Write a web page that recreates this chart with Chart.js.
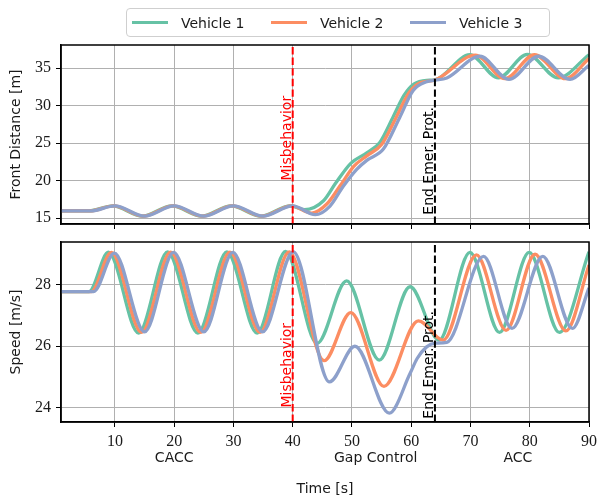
<!DOCTYPE html>
<html>
<head>
<meta charset="utf-8">
<script src="https://cdn.jsdelivr.net/npm/chart.js@4.4.1/dist/chart.umd.min.js"></script>
<style>
  body { margin: 0; background: #fff; }
  #wrap { position: relative; width: 599px; height: 500px; overflow: hidden; background: #fff; }
  canvas { position: absolute; left: 0; }
  #topChart { top: 0; }
  #bottomChart { top: 232px; }
  #legend {
    position: absolute; left: 126px; top: 8px; width: 424px; height: 29px;
    box-sizing: border-box; border: 1px solid #cfcfcf; border-radius: 4px;
    background: rgba(255,255,255,0.85); padding-left: 5px;
    display: flex; align-items: center; z-index: 2;
    font: 14px "DejaVu Sans", sans-serif; color: #1a1a1a;
  }
  #legend .item { width: 148px; display: flex; align-items: center; }
  #legend .swatch { width: 36px; height: 3px; margin-right: 13px; }
</style>
</head>
<body>
<div id="wrap">
  <canvas id="topChart" width="599" height="232"></canvas>
  <canvas id="bottomChart" width="599" height="268"></canvas>
  <div id="legend"></div>
</div>
<script>
// values
const vehicleNames = ["Vehicle 1", "Vehicle 2", "Vehicle 3"];
const vehicleColors = ["#66c2a5", "#fc8d62", "#8da0cb"];

const timeTicks = [10, 20, 30, 40, 50, 60, 70, 80, 90];
const distTicks = [15, 20, 25, 30, 35];
const speedTicks = [24, 26, 28];

const phaseNames = ["CACC", "Gap Control", "ACC"];
const phaseCenters = [20, 54, 78];

const eventTimes = [40, 64];
const eventLabels = ["Misbehavior", "End Emer. Prot."];
const eventColors = ["#ff0000", "#000000"];

// front distance [m]
const tDist1 = [0.9, 5.6, 9.6, 14.6, 19.6, 24.6, 29.6, 34.6, 39.6, 42.0, 45.2, 47.2, 49.8, 52.5, 54.7, 57.0, 58.8, 60.5, 62.6, 64.0, 69.9, 74.7, 79.6, 84.8, 90];
const dist1  = [15.95, 15.95, 16.62, 15.25, 16.62, 15.25, 16.62, 15.25, 16.62, 16.1, 17.3, 19.6, 22.3, 23.7, 25.1, 28.6, 31.4, 32.9, 33.38, 33.45, 36.8, 33.7, 36.85, 33.7, 36.8];
const tDist2 = [0.9, 5.8, 9.8, 14.8, 19.8, 24.8, 29.8, 34.8, 39.8, 43.2, 45.8, 48.0, 50.3, 52.5, 55.0, 57.5, 59.6, 61.5, 64.0, 70.8, 75.8, 80.8, 86.0, 90];
const dist2  = [15.95, 15.95, 16.62, 15.25, 16.62, 15.25, 16.62, 15.25, 16.62, 15.65, 16.9, 19.3, 21.9, 23.3, 24.8, 28.5, 31.7, 33.05, 33.42, 36.75, 33.6, 36.8, 33.6, 36.3];
const tDist3 = [0.9, 6.0, 10.0, 15.0, 20.0, 25.0, 30.0, 35.0, 40.0, 43.8, 46.3, 48.5, 50.8, 52.5, 55.3, 58.1, 60.3, 62.6, 64.0, 66.0, 71.6, 76.5, 81.5, 86.8, 90];
const dist3  = [15.95, 15.95, 16.62, 15.25, 16.62, 15.25, 16.62, 15.25, 16.62, 15.44, 16.6, 19.2, 21.5, 22.7, 24.2, 28.5, 32.0, 33.2, 33.4, 33.7, 36.6, 33.5, 36.6, 33.5, 35.4];

// speed [m/s]
const tSpeed1 = [0.9, 5.6, 8.9, 14.0, 18.9, 24.0, 28.9, 34.0, 38.8, 44.1, 49.1, 54.6, 59.8, 64.7, 69.9, 74.9, 79.9, 85.0, 90];
const speed1  = [27.78, 27.78, 29.07, 26.43, 29.08, 26.43, 29.08, 26.43, 29.09, 26.09, 28.13, 25.55, 27.94, 26.2, 29.06, 26.45, 29.06, 26.45, 29.08];
const tSpeed2 = [0.9, 6.0, 9.4, 14.5, 19.4, 24.5, 29.4, 34.5, 39.4, 45.3, 49.8, 55.4, 61.2, 65.4, 71.0, 76.0, 80.9, 86.1, 90];
const speed2  = [27.78, 27.78, 29.06, 26.45, 29.07, 26.45, 29.07, 26.45, 29.08, 25.53, 27.1, 24.69, 26.83, 26.2, 28.98, 26.52, 29.0, 26.5, 28.65];
const tSpeed3 = [0.9, 6.4, 9.9, 15.0, 19.9, 25.0, 29.9, 34.9, 40.1, 46.2, 50.5, 56.3, 59.8, 61.0, 62.6, 64.0, 66.0, 72.2, 77.0, 82.2, 87.2, 90];
const speed3  = [27.78, 27.78, 29.04, 26.47, 29.06, 26.47, 29.06, 26.47, 29.08, 24.84, 26.0, 23.82, 25.11, 25.6, 25.98, 26.1, 26.13, 28.93, 26.58, 28.93, 26.58, 27.9];

const xMin = 0.9, xMax = 90;
const sans = '"DejaVu Sans", sans-serif';
const serif = '"Liberation Serif", serif';
const ink = "#1a1a1a";

function toPoints(ts, vs) {
    return ts.map((t, i) => ({ x: t, y: vs[i] }));
}

function makeDatasets(series) {
    return series.map((s, i) => ({
        label: vehicleNames[i],
        data: toPoints(s[0], s[1]),
        borderColor: vehicleColors[i],
        borderWidth: 3.3,
        pointRadius: 0,
        cubicInterpolationMode: "monotone",
        fill: false,
        order: 3 - i   // vehicle 3 drawn on top
    }));
}

// the axes keep a fixed size, label overhang must not push the plot area
function noPadding(s) {
    s.paddingTop = 0;
    s.paddingBottom = 0;
    s.paddingLeft = 0;
    s.paddingRight = 0;
}

function yScale(min, max, tickVals, title) {
    return {
        min: min, max: max,
        afterBuildTicks: s => { s.ticks = tickVals.map(v => ({ value: v })); },
        afterFit: s => { s.width = 61; noPadding(s); },
        grid: { color: "#b0b0b0", lineWidth: 1, tickLength: 5, tickColor: "#000" },
        border: { color: "#000", width: 1.5 },
        ticks: { font: { family: serif, size: 16 }, color: ink, padding: 5 },
        title: { display: true, text: title, font: { family: sans, size: 14 }, color: ink, padding: { top: 8, bottom: 0 } }
    };
}

function xScale(showLabels, height) {
    return {
        type: "linear", min: xMin, max: xMax,
        afterBuildTicks: s => { s.ticks = timeTicks.map(v => ({ value: v })); },
        afterFit: s => { s.height = height; noPadding(s); },
        grid: { color: "#b0b0b0", lineWidth: 1, tickLength: 5, tickColor: "#000" },
        border: { color: "#000", width: 1.5 },
        ticks: { display: showLabels, autoSkip: false, maxRotation: 0, font: { family: serif, size: 16 }, color: ink, padding: 5 }
    };
}

// vertical event lines, their texts and the full axes frame
const markers = {
    id: "markers",
    afterDatasetsDraw(chart, args, opts) {
        const ctx = chart.ctx;
        const a = chart.chartArea;
        const x = chart.scales.x, y = chart.scales.y;
        ctx.save();
        eventTimes.forEach((t, i) => {
            const px = x.getPixelForValue(t);
            ctx.strokeStyle = eventColors[i];
            ctx.lineWidth = 2;
            ctx.setLineDash([7.4, 3.2]);
            ctx.beginPath();
            ctx.moveTo(px, a.bottom);
            ctx.lineTo(px, a.top);
            ctx.stroke();

            ctx.save();
            ctx.translate(px - 2, y.getPixelForValue(opts.labelY[i]));
            ctx.rotate(-Math.PI / 2);
            ctx.fillStyle = eventColors[i];
            ctx.font = "14px " + sans;
            ctx.textAlign = "left";
            ctx.textBaseline = "alphabetic";
            ctx.fillText(eventLabels[i], 0, 0);
            ctx.restore();
        });
        ctx.setLineDash([]);
        ctx.strokeStyle = "#000";
        ctx.lineWidth = 1.5;
        ctx.strokeRect(a.left, a.top, a.right - a.left, a.bottom - a.top);
        ctx.restore();
    }
};

const topChart = new Chart(document.getElementById("topChart"), {
    type: "line",
    data: { datasets: makeDatasets([[tDist1, dist1], [tDist2, dist2], [tDist3, dist3]]) },
    options: {
        responsive: false,
        animation: false,
        devicePixelRatio: 1,
        layout: { padding: { top: 45, right: 10, left: 0, bottom: 0 } },
        plugins: {
            legend: { display: false },
            tooltip: { enabled: false },
            markers: { labelY: [20, 15.44] }
        },
        scales: {
            x: xScale(false, 8),
            y: yScale(14.2, 38.1, distTicks, "Front Distance [m]")
        }
    },
    plugins: [markers]
});

const bottomChart = new Chart(document.getElementById("bottomChart"), {
    type: "line",
    data: { datasets: makeDatasets([[tSpeed1, speed1], [tSpeed2, speed2], [tSpeed3, speed3]]) },
    options: {
        responsive: false,
        animation: false,
        devicePixelRatio: 1,
        layout: { padding: { top: 10, right: 10, left: 0, bottom: 0 } },
        plugins: {
            legend: { display: false },
            tooltip: { enabled: false },
            markers: { labelY: [24.0, 23.64] }
        },
        scales: {
            x: xScale(true, 28),
            x2: {
                type: "linear", position: "bottom", min: xMin, max: xMax, weight: 1,
                afterBuildTicks: s => { s.ticks = phaseCenters.map(v => ({ value: v })); },
                afterFit: s => { s.height = 50; noPadding(s); },
                grid: { display: false, drawTicks: false },
                border: { display: false },
                ticks: {
                    autoSkip: false, maxRotation: 0, padding: 0,
                    callback: (v, i) => phaseNames[i],
                    font: { family: sans, size: 14 }, color: ink
                },
                title: { display: true, text: "Time [s]", font: { family: sans, size: 14 }, color: ink, padding: { top: 0, bottom: 2 } }
            },
            y: yScale(23.53, 29.4, speedTicks, "Speed [m/s]")
        }
    },
    plugins: [markers]
});

// legend built from the datasets
const legendDiv = document.getElementById("legend");
topChart.data.datasets.forEach(ds => {
    const item = document.createElement("div");
    item.className = "item";
    const sw = document.createElement("span");
    sw.className = "swatch";
    sw.style.background = ds.borderColor;
    const tx = document.createElement("span");
    tx.textContent = ds.label;
    item.append(sw, tx);
    legendDiv.append(item);
});
</script>
</body>
</html>
